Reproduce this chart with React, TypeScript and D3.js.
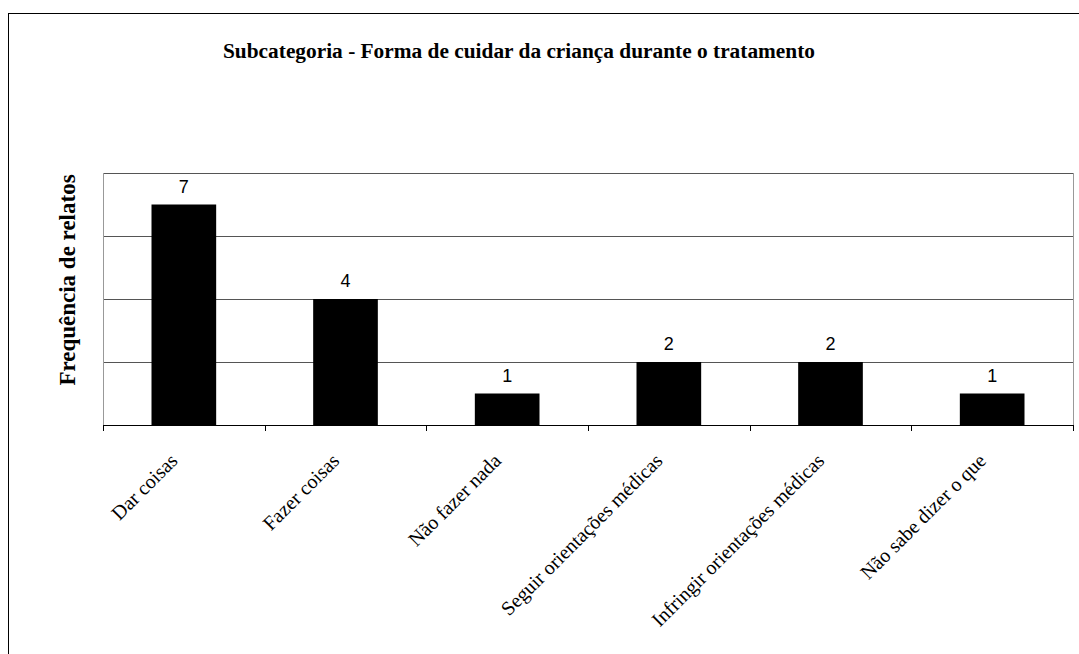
import React from "react";
import * as d3 from "d3";

const categories = [
  "Dar coisas",
  "Fazer coisas",
  "Não fazer nada",
  "Seguir orientações médicas",
  "Infringir orientações médicas",
  "Não sabe dizer o que",
];
const values = [7, 4, 1, 2, 2, 1];
const yTicks = [0, 2, 4, 6, 8];
const title = "Subcategoria - Forma de cuidar da criança durante o tratamento";
const yTitle = "Frequência de relatos";

export default function App() {
  const W = 1079, H = 654;
  const left = 103, right = 1073, top = 173, bottom = 425;
  const x = d3.scaleBand<string>().domain(categories).range([left, right]).paddingInner(0.6).paddingOuter(0.3);
  const xb = d3.scaleBand<string>().domain(categories).range([left, right]);
  const y = d3.scaleLinear().domain([0, 8]).range([bottom, top]);
  const serif = "'Liberation Serif', 'Times New Roman', serif";
  const sans = "'Liberation Sans', Arial, sans-serif";
  return (
    <svg width={W} height={H} style={{ position: "absolute", left: 0, top: 0 }}>
      <rect x={0} y={0} width={W} height={H} fill="#fff" />
      <rect x={8.5} y={13.5} width={1090} height={700} fill="none" stroke="#000" strokeWidth={1} />
      <text x={519} y={58} textAnchor="middle" fontFamily={serif} fontWeight="bold" fontSize={20.5}
        textLength={592} lengthAdjust="spacingAndGlyphs">{title}</text>
      {yTicks.slice(1).map((t) => (
        <line key={t} x1={left} x2={right} y1={Math.round(y(t)) + 0.5} y2={Math.round(y(t)) + 0.5} stroke="#555" strokeWidth={1} />
      ))}
      <line x1={left + 0.5} x2={left + 0.5} y1={top} y2={bottom} stroke="#999" />
      <line x1={right + 0.5} x2={right + 0.5} y1={top} y2={bottom} stroke="#999" />
      {categories.map((c, i) => (
        <rect key={c} x={x(c)!} y={y(values[i])} width={x.bandwidth()} height={y(0) - y(values[i])} fill="#000" />
      ))}
      <line x1={left} x2={right + 1} y1={bottom + 0.5} y2={bottom + 0.5} stroke="#000" />
      {[...categories.map((c) => xb(c)!), right].map((t, i) => (
        <line key={i} x1={Math.round(t) + 0.5} x2={Math.round(t) + 0.5} y1={bottom} y2={bottom + 6} stroke="#000" />
      ))}
      {categories.map((c, i) => (
        <text key={c} x={x(c)! + x.bandwidth() / 2} y={y(values[i]) - 12} textAnchor="middle" fontFamily={sans} fontSize={18}>{values[i]}</text>
      ))}
      {categories.map((c) => {
        const cx = xb(c)! + xb.bandwidth() / 2;
        return (
          <text key={c} transform={`translate(${cx - 5},${462}) rotate(-45)`} textAnchor="end" fontFamily={serif} fontSize={20}>{c}</text>
        );
      })}
      <text transform={`translate(75,${280}) rotate(-90)`} textAnchor="middle" fontFamily={serif} fontWeight="bold" fontSize={23}>{yTitle}</text>
    </svg>
  );
}
